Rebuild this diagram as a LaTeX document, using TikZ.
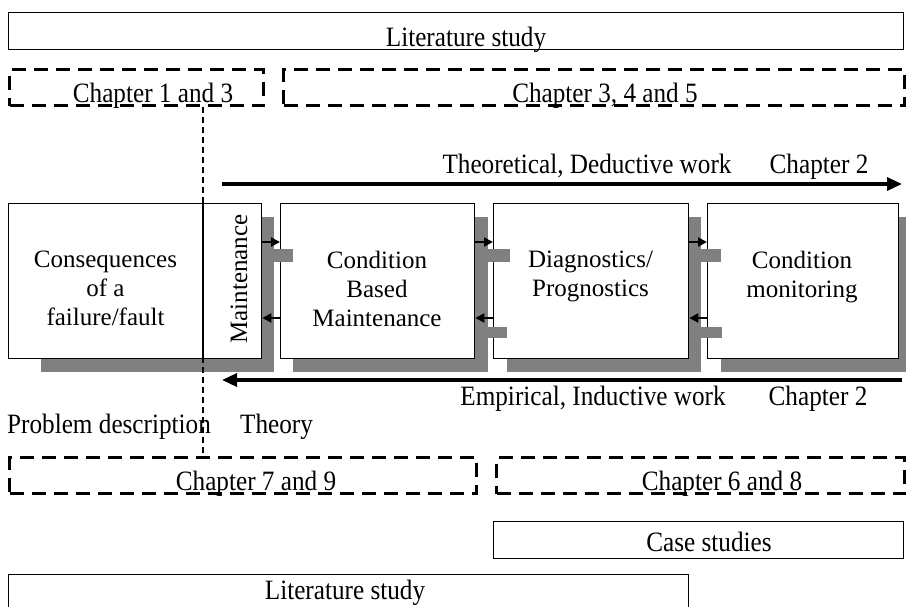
\documentclass[tikz,border=0pt]{standalone}
\usepackage{fontspec}
\setmainfont{Liberation Serif}
\newfontfamily\outerfont[FakeStretch=0.9]{Liberation Serif}
\usetikzlibrary{arrows.meta}
\tikzset{
  boxtxt/.style={font=\fontsize{25}{29}\selectfont, align=center, inner sep=0pt},
  outtxt/.style={font=\outerfont\fontsize{28}{32}\selectfont, inner sep=0pt, anchor=base},
  solidbox/.style={draw, line width=1.3pt, inner sep=0pt, fill=white, anchor=north west},
  dashbox/.style={draw, line width=3.3pt, dash pattern=on 14pt off 8pt, inner sep=0pt, anchor=north west},
  shade/.style={fill=black!50},
  bigarr/.style={line width=3.3pt, -{Triangle[length=15pt,width=13pt]}},
  smallarr/.style={line width=2pt, -{Triangle[length=9pt,width=9pt]}},
  dotline/.style={line width=2.5pt, dash pattern=on 6pt off 4pt},
}
\begin{document}
\begin{tikzpicture}[x=1pt,y=-1pt]
\useasboundingbox (0,0) rectangle (906,606);
% top row
\node[solidbox, minimum width=895pt, minimum height=37pt] (lit1) at (8,12) {};
\node[outtxt] (lit1t) at (466,46) {Literature study};
\node[dashbox, minimum width=254pt, minimum height=36pt] (c13) at (8,68) {};
\node[dashbox, minimum width=621pt, minimum height=36pt] (c345) at (282,68) {};
\node[outtxt] (c13t) at (153,102) {Chapter 1 and 3};
\node[outtxt] (c345t) at (605,102) {Chapter 3, 4 and 5};
% theoretical arrow
\node[outtxt] (theo) at (587,173) {Theoretical, Deductive work};
\node[outtxt] (ch2a) at (819,173) {Chapter 2};
\coordinate (ta) at (222,184);
\coordinate (tb) at (902,184);
\draw[bigarr] (ta) -- (tb);
% shadows
\fill[shade] (41,217) rectangle (274,372);
\fill[shade] (293,217) rectangle (488,372);
\fill[shade] (507,217) rectangle (701,372);
\fill[shade] (721,217) rectangle (910,372);
% boxes
\node[solidbox, minimum width=253pt, minimum height=155pt] (b1) at (8,203) {};
\node[solidbox, minimum width=194pt, minimum height=155pt] (b2) at (280,203) {};
\node[solidbox, minimum width=195pt, minimum height=155pt] (b3) at (493,203) {};
\node[solidbox, minimum width=191pt, minimum height=155pt] (b4) at (707,203) {};
\draw[line width=1.3pt] (b1.north -| 203,0) -- (b1.south -| 203,0);
% box texts
\node[boxtxt, anchor=north] (t1) at (105.5,251) {Consequences\\of a\\failure/fault};
\node[boxtxt, rotate=90] (t1m) at (239,279) {Maintenance};
\node[boxtxt, anchor=north] (t2) at (377,251) {Condition\\Based\\Maintenance};
\node[boxtxt, anchor=north] (t3) at (590.5,251) {Diagnostics/\\Prognostics};
\node[boxtxt, anchor=north] (t4) at (802,251) {Condition\\monitoring};
% small shadow tabs
\fill[shade] (273,249) rectangle (293,262);
\fill[shade] (487,249) rectangle (510,262);
\fill[shade] (487,327) rectangle (507,338);
\fill[shade] (700,249) rectangle (721,262);
\fill[shade] (697,327) rectangle (722,338);
% small arrows
\draw[smallarr] (b1.east |- 0,242) -- (b2.west |- 0,242);
\draw[smallarr] (b2.west |- 0,318) -- (b1.east |- 0,318);
\draw[smallarr] (b2.east |- 0,242) -- (b3.west |- 0,242);
\draw[smallarr] (b3.west |- 0,318) -- (b2.east |- 0,318);
\draw[smallarr] (b3.east |- 0,242) -- (b4.west |- 0,242);
\draw[smallarr] (b4.west |- 0,318) -- (b3.east |- 0,318);
% empirical arrow
\coordinate (ea) at (902,380);
\coordinate (eb) at (222,380);
\draw[bigarr] (ea) -- (eb);
\node[outtxt] (emp) at (593,405) {Empirical, Inductive work};
\node[outtxt] (ch2b) at (818,405) {Chapter 2};
\node[outtxt, anchor=base west] (prob) at (7,433) {Problem description};
\node[outtxt, anchor=base west] (theory) at (240,433) {Theory};
% lower dashed boxes
\node[dashbox, minimum width=467pt, minimum height=36pt] (c79) at (8,456) {};
\node[dashbox, minimum width=408pt, minimum height=36pt] (c68) at (495,456) {};
\node[outtxt] (c79t) at (256,490) {Chapter 7 and 9};
\node[outtxt] (c68t) at (722,490) {Chapter 6 and 8};
% dotted divider
\draw[dotline] (c13.south -| 203,0) -- (c79.north -| 203,0);
% case studies & literature
\node[solidbox, minimum width=410pt, minimum height=37pt] (case) at (493,521) {};
\node[outtxt] (caset) at (709,551) {Case studies};
\node[solidbox, minimum width=680pt, minimum height=60pt] (lit2) at (8,574) {};
\node[outtxt] (lit2t) at (345,599) {Literature study};
\end{tikzpicture}
\end{document}
